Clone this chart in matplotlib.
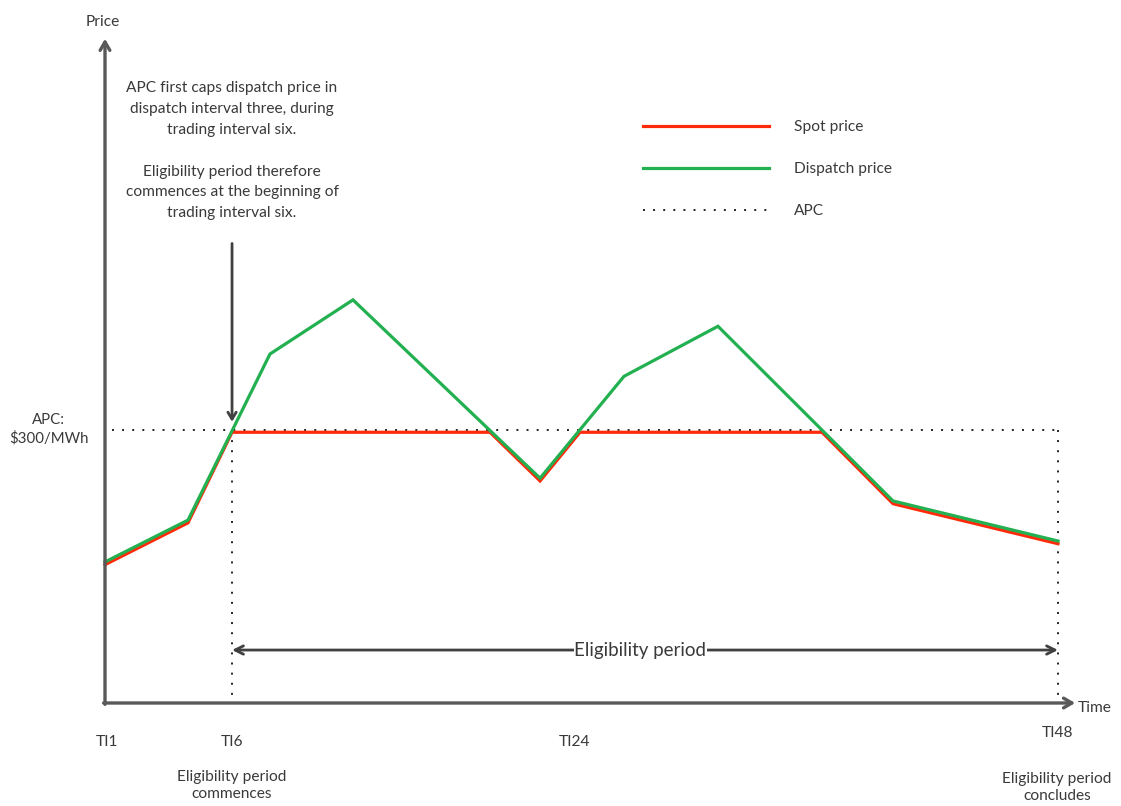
import matplotlib
matplotlib.use("Agg")
import matplotlib.pyplot as plt
from matplotlib.lines import Line2D

plt.rcParams['font.family'] = ['Lato', 'DejaVu Sans']

# ---- data (schematic: time in arbitrary units 0..100, price in $/MWh) ----
dispatch_t = [0, 8.71, 17.31, 26.02, 45.65, 54.46, 64.32, 82.69, 100]
dispatch_p = [155, 201, 383.5, 443, 247, 359, 414, 222, 178]
spot_t = [0, 8.71, 13.33, 40.4, 45.65, 49.84, 75.24, 82.69, 100]
spot_p = [152, 198, 297.5, 297.5, 244, 297.5, 297.5, 219, 175]
apc_price = 300
elig_start, elig_end = 13.33, 100
tick_pos = [0.2, 13.33, 49.3]
tick_labels = ["TI1", "TI6", "TI24"]

GRAY = '#595959'
DARK = '#404040'
TXT = '#3a3a3a'
RED = '#FF2A0A'
GREEN = '#22B050'
FS = 11.2

fig = plt.figure(figsize=(11.21, 8.06), dpi=100)
ax = fig.add_axes([0, 0, 1, 1])
ax.set_xlim(-11.018, 106.61)
ax.set_ylim(-113.19, 772.53)
ax.axis('off')

# axes with arrows
ax.annotate('', xy=(0, 730), xytext=(0, -1.5),
            arrowprops=dict(arrowstyle='->,head_length=0.6,head_width=0.35', color=GRAY, lw=2.4,
                            shrinkA=0, shrinkB=0))
ax.annotate('', xy=(101.8, 0), xytext=(-0.15, 0),
            arrowprops=dict(arrowstyle='->,head_length=0.6,head_width=0.35', color=GRAY, lw=2.4,
                            shrinkA=0, shrinkB=0))
ax.text(-0.2, 748, 'Price', ha='center', va='center', fontsize=FS, color=TXT)
ax.text(103.9, -5.5, 'Time', ha='center', va='center', fontsize=FS, color=TXT)

# APC dotted lines
dot = (0, (1, 4.2))
ax.plot([0.7, elig_end], [apc_price, apc_price], color='#222222', lw=1.4, ls=dot)
ax.plot([elig_start, elig_start], [apc_price, 0], color='#222222', lw=1.4, ls=dot)
ax.plot([elig_end, elig_end], [apc_price, 0], color='#222222', lw=1.4, ls=dot)

# price lines
ax.plot(spot_t, spot_p, color=RED, lw=2.3, solid_joinstyle='miter')
ax.plot(dispatch_t, dispatch_p, color=GREEN, lw=2.3, solid_joinstyle='miter')

# APC label
ax.text(-5.9, 301, 'APC:\n$300/MWh', ha='center', va='center', fontsize=10.8,
        color=TXT, linespacing=1.3)

# annotation block
lines = ["APC first caps dispatch price in", "dispatch interval three, during",
         "trading interval six.", "",
         "Eligibility period therefore", "commences at the beginning of",
         "trading interval six."]
for i, s in enumerate(lines):
    ax.text(elig_start, 676 - i * 23.0, s, ha='center', va='center', fontsize=FS, color=TXT)
ax.annotate('', xy=(elig_start, 309), xytext=(elig_start, 505),
            arrowprops=dict(arrowstyle='->,head_length=0.5,head_width=0.3', color=DARK, lw=2,
                            shrinkA=0, shrinkB=0))

# eligibility period arrow
ax.annotate('', xy=(elig_end, 58.2), xytext=(elig_start, 58.2),
            arrowprops=dict(arrowstyle='<->,head_length=0.6,head_width=0.3', color=DARK, lw=2,
                            shrinkA=0, shrinkB=0))
ax.text((elig_start + elig_end) / 2 - 0.5, 58.2, 'Eligibility period', ha='center', va='center',
        fontsize=13.5, color=TXT, bbox=dict(facecolor='white', edgecolor='none', pad=0.5))

# tick labels
for x, s in zip(tick_pos, tick_labels):
    ax.text(x, -42.9, s, ha='center', va='center', fontsize=FS, color=TXT)
ax.text(99.9, -33, 'TI48', ha='center', va='center', fontsize=FS, color=TXT)
ax.text(elig_start, -90.5, 'Eligibility period\ncommences', ha='center', va='center',
        fontsize=FS, color=TXT, linespacing=1.25)
ax.text(99.9, -93, 'Eligibility period\nconcludes', ha='center', va='center',
        fontsize=FS, color=TXT, linespacing=1.25)

# legend
handles = [Line2D([], [], color=RED, lw=2.3),
           Line2D([], [], color=GREEN, lw=2.3),
           Line2D([], [], color='#222222', lw=1.4, ls=dot)]
ax.legend(handles, ['Spot price', 'Dispatch price', 'APC'], loc='upper left',
          bbox_to_anchor=(0.5736, 0.8505), frameon=False, fontsize=FS,
          handlelength=8.1, handletextpad=1.6, labelspacing=1.8, borderpad=0,
          borderaxespad=0, labelcolor=TXT)

fig.savefig('out.png', dpi=100)
